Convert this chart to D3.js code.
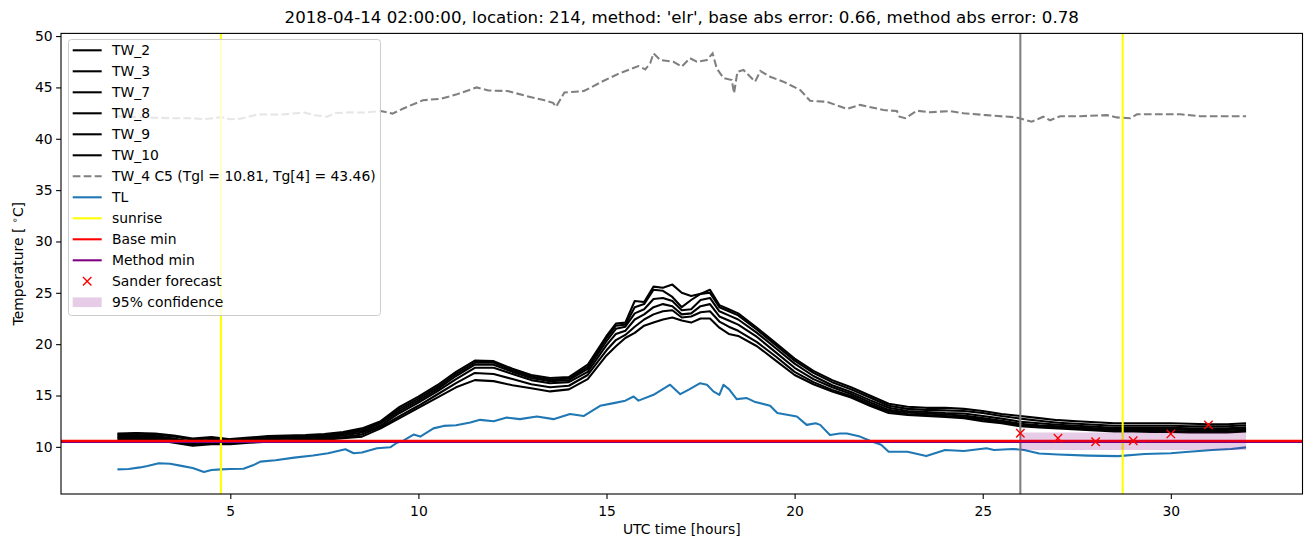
<!DOCTYPE html>
<html><head><meta charset="utf-8">
<script src="https://cdnjs.cloudflare.com/ajax/libs/d3/7.8.5/d3.min.js"></script>
<style>body{margin:0;background:#fff}svg{display:block;font-family:"DejaVu Sans",sans-serif}</style>
</head><body><svg id="c" width="1310" height="547"></svg>
<script>
const titleText = "2018-04-14 02:00:00, location: 214, method: 'elr', base abs error: 0.66, method abs error: 0.78";
const xTicks = [5,10,15,20,25,30];
const yTicks = [10,15,20,25,30,35,40,45,50];

const twTime = [2,2.5,3,3.5,4,4.5,5,5.5,6,6.5,7,7.5,8,8.5,9,9.5,10,10.5,11,11.5,12,12.5,13,13.5,14,14.5,15,
 15.25,15.5,15.75,16,16.25,16.5,16.75,17,17.25,17.5,17.75,18,18.25,18.5,
 19,19.5,20,20.5,21,21.5,22,22.5,23,23.5,24,24.5,25,25.5,26,26.5,27,27.5,28,28.5,29,29.5,30,30.5,31,31.5,32];
const tw2 = [11.3,11.35,11.3,11.1,10.8,10.95,10.75,10.9,11.05,11.1,11.15,11.25,11.45,11.8,12.5,13.9,14.9,16.0,17.3,18.4,18.35,17.6,17.0,16.7,16.8,18.0,20.8,
 22.0,22.1,24.2,24.1,25.6,25.5,25.8,25.0,24.7,24.9,25.3,23.8,23.4,23.0,
 21.6,20.1,18.6,17.4,16.5,15.8,15.0,14.2,13.9,13.8,13.8,13.7,13.5,13.2,13.0,12.8,12.6,12.5,12.4,12.3,12.3,12.3,12.3,12.25,12.2,12.2,12.3];
const tw3 = [11.2,11.3,11.2,11.0,10.7,10.85,10.65,10.8,10.95,11.0,11.05,11.15,11.35,11.7,12.4,13.7,14.7,15.8,17.1,18.2,18.2,17.45,16.85,16.55,16.65,17.8,20.6,
 21.8,21.9,23.6,23.9,25.3,25.2,24.6,23.6,24.3,24.9,25.0,23.6,23.2,22.8,
 21.4,19.9,18.4,17.2,16.3,15.6,14.8,14.0,13.7,13.6,13.55,13.5,13.3,13.0,12.75,12.55,12.35,12.25,12.15,12.05,12.05,12.05,12.05,12.0,12.0,12.0,12.1];
const tw7 = [11.1,11.15,11.05,10.8,10.5,10.7,10.55,10.7,10.85,10.9,10.95,11.05,11.25,11.55,12.3,13.5,14.5,15.6,16.9,18.0,18.0,17.3,16.7,16.4,16.5,17.6,20.3,
 21.5,21.7,23.0,23.4,24.4,24.5,24.2,23.3,23.4,24.3,24.5,23.2,22.8,22.4,
 21.1,19.6,18.1,16.9,16.0,15.35,14.55,13.8,13.5,13.4,13.3,13.25,13.0,12.75,12.45,12.3,12.15,12.05,11.95,11.85,11.85,11.85,11.85,11.8,11.8,11.8,11.9];
const tw8 = [10.95,11.0,10.95,10.7,10.35,10.55,10.45,10.6,10.75,10.8,10.85,10.95,11.1,11.4,12.1,13.3,14.3,15.4,16.6,17.7,17.7,17.1,16.5,16.2,16.3,17.3,19.9,
 21.0,21.3,22.4,22.9,23.6,23.9,23.7,22.9,23.0,23.7,23.9,22.7,22.3,21.9,
 20.7,19.2,17.7,16.6,15.8,15.15,14.35,13.6,13.35,13.25,13.15,13.05,12.8,12.55,12.25,12.1,12.0,11.9,11.8,11.7,11.7,11.7,11.7,11.65,11.65,11.65,11.75];
const tw9 = [10.85,10.9,10.85,10.55,10.2,10.4,10.35,10.5,10.6,10.65,10.7,10.8,10.95,11.2,11.95,13.0,14.0,15.1,16.2,17.2,17.1,16.6,16.1,15.8,15.95,17.0,19.4,
 20.4,20.9,21.7,22.4,22.9,23.2,23.3,22.6,22.7,23.1,23.2,22.2,21.7,21.3,
 20.2,18.8,17.3,16.3,15.55,14.95,14.15,13.45,13.2,13.1,13.0,12.9,12.65,12.4,12.1,12.0,11.9,11.8,11.7,11.6,11.6,11.55,11.55,11.5,11.5,11.5,11.6];
const tw10 = [10.7,10.75,10.7,10.4,10.1,10.25,10.25,10.4,10.5,10.55,10.6,10.7,10.85,11.0,11.8,12.8,13.8,14.8,15.8,16.5,16.4,16.0,15.7,15.4,15.6,16.6,18.9,
 19.8,20.6,21.1,21.8,22.1,22.4,22.6,22.3,22.1,22.5,22.5,21.6,21.0,20.8,
 19.8,18.4,17.0,16.1,15.4,14.8,14.0,13.3,13.1,13.0,12.9,12.8,12.5,12.3,12.0,11.9,11.8,11.7,11.6,11.5,11.5,11.45,11.45,11.4,11.4,11.4,11.5];

const tw4Time = [2,2.5,3,3.5,4,4.3,4.76,5.0,5.26,5.75,6.32,6.97,7.22,7.58,7.78,8.19,8.56,9.0,9.31,9.6,10.12,10.6,11.0,11.55,11.86,12.37,12.87,13.3,13.58,13.66,13.88,14.4,14.9,15.36,15.85,16.03,16.16,16.25,16.43,16.78,17.0,17.22,17.4,17.67,17.82,17.93,18.11,18.33,18.39,18.48,18.64,18.95,19.09,19.35,19.7,20.15,20.41,20.86,21.39,21.74,22.36,22.72,22.79,22.94,23.07,23.25,23.6,24.13,24.49,25.1,25.9,26.17,26.3,26.61,26.79,27.06,27.59,28.3,28.56,28.92,29.1,30.25,30.78,32.0];
const tw4 = [42.2,42.1,42.05,42.0,42.0,41.9,42.1,41.9,41.95,42.38,42.35,42.55,42.3,42.15,42.5,42.57,42.55,42.7,42.45,42.95,43.75,43.9,44.3,45.0,44.7,44.65,44.16,43.8,43.5,43.12,44.5,44.65,45.6,46.4,47.08,46.76,47.35,48.32,47.67,47.5,47.02,47.84,47.5,47.67,48.32,46.86,45.9,45.72,44.43,46.53,46.7,45.56,46.6,46.04,45.56,44.75,43.7,43.6,42.9,43.3,42.8,42.7,42.15,42.0,42.3,42.73,42.58,42.7,42.48,42.3,42.08,41.8,41.66,42.15,41.8,42.2,42.2,42.3,42.08,42.0,42.38,42.38,42.2,42.2];

const tlTime = [2,2.3,2.6,2.8,3.1,3.4,3.7,4.0,4.3,4.5,4.75,5.0,5.35,5.6,5.8,6.2,6.7,7.2,7.6,8.06,8.28,8.5,8.9,9.25,9.43,9.6,9.87,10.05,10.4,10.67,11.0,11.38,11.64,12.0,12.35,12.7,13.15,13.59,14.03,14.39,14.83,15.19,15.5,15.72,15.85,16.25,16.69,16.96,17.2,17.49,17.67,17.84,18.0,18.11,18.26,18.46,18.73,18.93,19.35,19.54,20.06,20.32,20.56,20.68,20.94,21.2,21.39,21.74,22.0,22.3,22.5,23.0,23.5,24.0,24.5,25.1,25.3,25.8,26.1,26.5,27.0,27.8,28.6,29.3,30.0,30.4,31.1,31.6,32.0];
const tl = [7.81,7.85,8.0,8.14,8.4,8.35,8.15,7.95,7.55,7.75,7.81,7.85,7.87,8.2,8.56,8.7,8.95,9.15,9.38,9.77,9.38,9.45,9.86,9.96,10.4,10.6,11.2,11.0,11.8,12.04,12.1,12.37,12.63,12.5,12.85,12.7,12.95,12.7,13.2,13.0,14.0,14.26,14.5,14.9,14.5,15.07,16.05,15.13,15.6,16.2,16.05,15.4,15.07,16.05,15.6,14.65,14.75,14.4,14.0,13.3,12.95,12.14,12.3,12.14,11.16,11.3,11.3,11.0,10.6,10.2,9.53,9.53,9.1,9.7,9.6,9.86,9.7,9.8,9.7,9.35,9.25,9.15,9.1,9.3,9.38,9.5,9.7,9.8,9.95];

const sunrise = [4.75, 28.72];
const nowTime = 26;
const baseMin = 10.58;
const methodMin = 10.48;
const forecastTime = [26,27,28,29,30,31];
const forecast = [11.33,10.84,10.5,10.6,11.26,12.14];
const confTime = [26,32];
const confLow = [9.7,9.7];
const confHigh = [11.4,11.4];

const legendLabels = ["TW_2","TW_3","TW_7","TW_8","TW_9","TW_10","TW_4 C5 (Tgl = 10.81, Tg[4] = 43.46)","TL","sunrise","Base min","Method min","Sander forecast","95% confidence"];

const svg = d3.select("#c");
const L = 61, R = 1302.5, T = 33.4, B = 494;
const x = d3.scaleLinear().domain([0.5, 33.5]).range([L, R]);
const y = d3.scaleLinear().domain([5.41, 50.26]).range([B, T]);
const lw = 2.08;

svg.append("defs").append("clipPath").attr("id","clip").append("rect")
  .attr("x",L).attr("y",T).attr("width",R-L).attr("height",B-T);
const g = svg.append("g").attr("clip-path","url(#clip)");

const line = d3.line().x(d=>x(d[0])).y(d=>y(d[1]));
const zipS = (t,v)=>t.map((tt,i)=>[tt,v[i]]);

[tw2,tw3,tw7,tw8,tw9,tw10].forEach(s=>{
  g.append("path").attr("d",line(zipS(twTime,s))).attr("fill","none")
   .attr("stroke","#000").attr("stroke-width",lw).attr("stroke-linejoin","round");
});
g.append("path").attr("d",line(zipS(tw4Time,tw4))).attr("fill","none")
  .attr("stroke","#808080").attr("stroke-width",lw).attr("stroke-dasharray","7.7,3.3");
g.append("path").attr("d",line(zipS(tlTime,tl))).attr("fill","none")
  .attr("stroke","#1f77b4").attr("stroke-width",lw).attr("stroke-linejoin","round");
g.append("line").attr("x1",x(nowTime)).attr("x2",x(nowTime)).attr("y1",T).attr("y2",B)
  .attr("stroke","#808080").attr("stroke-width",lw);
sunrise.forEach(s=>{
  g.append("line").attr("x1",x(s)).attr("x2",x(s)).attr("y1",T).attr("y2",B)
   .attr("stroke","#ffff00").attr("stroke-width",lw);
});
g.append("line").attr("x1",L).attr("x2",R).attr("y1",y(methodMin)).attr("y2",y(methodMin))
  .attr("stroke","#800080").attr("stroke-width",lw);
g.append("line").attr("x1",L).attr("x2",R).attr("y1",y(baseMin)).attr("y2",y(baseMin))
  .attr("stroke","#ff0000").attr("stroke-width",lw);
const area = d3.area().x(d=>x(d[0])).y0(d=>y(d[1])).y1(d=>y(d[2]));
g.append("path").attr("d",area(confTime.map((t,i)=>[t,confLow[i],confHigh[i]])))
  .attr("fill","#800080").attr("fill-opacity",0.2);
const ms = 4.2;
forecastTime.forEach((t,i)=>{
  const cx=x(t), cy=y(forecast[i]);
  g.append("path").attr("d",`M${cx-ms},${cy-ms}L${cx+ms},${cy+ms}M${cx-ms},${cy+ms}L${cx+ms},${cy-ms}`)
   .attr("stroke","#ff0000").attr("stroke-width",1.4);
});

// axes
const xAxis = d3.axisBottom(x).tickValues(xTicks).tickSize(4.9).tickPadding(3.5).tickFormat(d3.format("d"));
const yAxis = d3.axisLeft(y).tickValues(yTicks).tickSize(4.9).tickPadding(3.5).tickFormat(d3.format("d"));
const gx = svg.append("g").attr("transform",`translate(0,${B})`).call(xAxis);
const gy = svg.append("g").attr("transform",`translate(${L},0)`).call(yAxis);
[gx,gy].forEach(a=>{
  a.select(".domain").remove();
  a.selectAll(".tick line").attr("stroke","#000").attr("stroke-width",1.1);
  a.selectAll("text").attr("font-family","DejaVu Sans").attr("font-size",13.9).attr("fill","#000");
});
gx.selectAll("text").attr("dy","0.95em");
svg.append("rect").attr("x",L).attr("y",T).attr("width",R-L).attr("height",B-T)
  .attr("fill","none").attr("stroke","#000").attr("stroke-width",1.1);

svg.append("text").attr("x",(L+R)/2).attr("y",23).attr("text-anchor","middle")
  .attr("font-size",16.67).text(titleText);
svg.append("text").attr("x",(L+R)/2).attr("y",534).attr("text-anchor","middle")
  .attr("font-size",13.9).text("UTC time [hours]");
const yl = svg.append("text").attr("transform",`translate(23,${(T+B)/2}) rotate(-90)`)
  .attr("text-anchor","middle").attr("font-size",13.9);
yl.append("tspan").text("Temperature [ ");
yl.append("tspan").attr("font-size",9.7).attr("dy",-5).text("∘");
yl.append("tspan").attr("dy",5).text("C]");

// legend
const lg = svg.append("g");
lg.append("rect").attr("x",68.5).attr("y",39.5).attr("width",312).attr("height",276)
  .attr("rx",3).attr("fill","#fff").attr("fill-opacity",0.8).attr("stroke","#cccccc").attr("stroke-width",1);
const styles = [
 {t:"line",c:"#000"},{t:"line",c:"#000"},{t:"line",c:"#000"},{t:"line",c:"#000"},{t:"line",c:"#000"},{t:"line",c:"#000"},
 {t:"dash",c:"#808080"},{t:"line",c:"#1f77b4"},{t:"line",c:"#ffff00"},{t:"line",c:"#ff0000"},{t:"line",c:"#800080"},
 {t:"x",c:"#ff0000"},{t:"patch",c:"#800080"}];
legendLabels.forEach((lab,i)=>{
  const yy = 50.3 + i*21.0;
  const s = styles[i];
  if (s.t==="line"||s.t==="dash") {
    const l = lg.append("line").attr("x1",72.7).attr("x2",101.7).attr("y1",yy).attr("y2",yy)
      .attr("stroke",s.c).attr("stroke-width",lw);
    if (s.t==="dash") l.attr("stroke-dasharray","7.7,3.3");
  } else if (s.t==="x") {
    const cx=87.2;
    lg.append("path").attr("d",`M${cx-ms},${yy-ms}L${cx+ms},${yy+ms}M${cx-ms},${yy+ms}L${cx+ms},${yy-ms}`)
      .attr("stroke",s.c).attr("stroke-width",1.4);
  } else {
    lg.append("rect").attr("x",72.7).attr("y",yy-4.9).attr("width",29).attr("height",9.7)
      .attr("fill",s.c).attr("fill-opacity",0.2);
  }
  lg.append("text").attr("x",112).attr("y",yy).attr("dy","0.35em").attr("font-size",13.9).text(lab);
});
</script></body></html>
